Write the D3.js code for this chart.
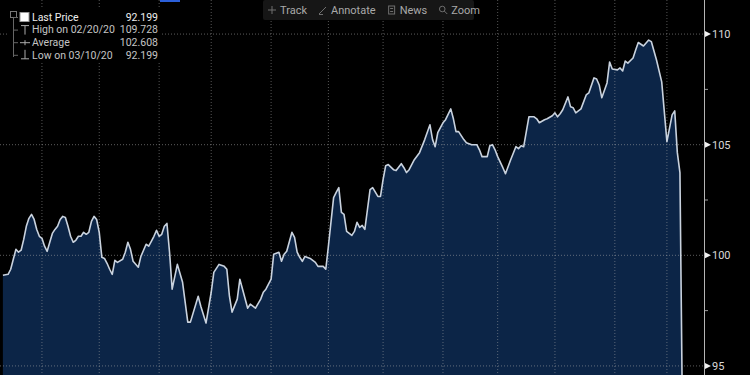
<!DOCTYPE html>
<html>
<head>
<meta charset="utf-8">
<script src="https://cdn.jsdelivr.net/npm/d3@7"></script>
<style>
  html, body { margin: 0; background: #000; overflow: hidden; }
  svg { display: block; font-family: Roboto, 'Open Sans', sans-serif; }
</style>
</head>
<body>
<svg id="chart" width="750" height="375"></svg>
<script>
// trading session index (0 = 2019-03-11) and closing level
var sessions = [0,2,3,4,5,6,7,8,9,10,11,12,13,14,15,16,17,18,19,20,21,22,23,24,25,26,27,28,29,30,
  31,32,33,34,35,36,37,38,39,40,41,42,43,44,46,47,48,49,50,52,53,55,56,57,58,59,60,61,62,63,
  64,65,67,69,71,72,75,76,78,80,81,83,85,86,87,88,90,91,94,95,97,99,100,101,103,104,106,107,108,109,
  111,112,113,114,115,116,118,120,121,123,124,125,127,128,129,130,131,132,134,135,136,137,138,139,
  140,141,142,144,145,146,147,148,150,151,153,154,155,156,158,160,162,164,165,166,167,169,170,172,
  173,174,175,177,178,180,182,183,184,186,187,188,189,190,192,193,195,197,198,199,200,202,204,205,
  206,208,209,211,212,213,214,215,217,218,219,220,222,224,225,227,228,229,230,232,233,234,236,237,
  238,239,240,242,243,244,246,248,249,251,253,255,257,258,259,260,261];
var prices = [99.10,99.14,99.37,99.82,100.27,100.14,100.23,100.72,101.31,101.67,101.85,101.62,101.17,100.86,100.77,
  100.41,100.18,100.59,100.99,101.17,101.31,101.62,101.76,101.71,101.31,100.86,100.59,100.68,100.86,100.86,
  101.04,100.95,101.04,101.53,101.76,101.62,101.04,99.91,99.86,99.64,99.37,99.14,99.77,99.68,99.82,
  100.14,100.59,100.27,99.73,99.46,99.95,100.50,100.41,100.63,100.86,101.13,100.86,100.95,101.31,101.44,
  100.14,98.47,99.59,98.78,96.98,96.98,98.15,97.70,96.94,98.33,99.23,99.59,99.50,99.37,98.15,
  97.43,98.02,98.92,97.61,97.79,97.61,98.02,98.33,98.47,98.92,100.05,100.14,99.73,100.05,100.18,
  101.04,100.81,100.14,99.91,99.73,99.95,99.86,99.68,99.50,99.50,99.37,100.41,102.61,102.84,103.06,
  101.94,101.85,101.08,100.90,101.08,101.49,101.26,101.35,101.17,102.07,102.97,103.06,102.66,102.66,103.42,
  104.05,104.10,103.87,103.83,104.14,103.96,103.74,103.87,104.32,104.64,105.23,105.90,105.23,104.91,105.54,
  105.99,106.13,106.62,106.17,105.59,105.59,105.23,105.09,105.00,105.00,104.77,104.46,104.46,104.95,105.00,
  104.77,104.46,103.96,103.69,104.32,104.91,104.82,104.95,104.91,106.26,106.26,106.17,105.99,106.13,106.17,
  106.31,106.44,106.26,106.40,106.58,107.16,106.71,106.67,106.44,106.62,107.25,107.34,108.02,107.97,107.70,
  107.12,107.79,108.74,108.42,108.38,108.47,108.33,108.78,108.69,108.92,109.28,109.62,109.46,109.728,109.66,
  108.83,107.84,105.14,106.35,106.53,104.64,103.74,92.199];
var firstSession = '2019-03-11';

var yTicks = [95, 100, 105, 110];
var yMinorTicks = [97.5, 102.5, 107.5];
var legendLabels = ['Last Price', 'High on 02/20/20', 'Average', 'Low on 03/10/20'];
var legendValues = ['92.199', '109.728', '102.608', '92.199'];
var toolbarItems = ['Track', 'Annotate', 'News', 'Zoom'];

//sizes
var w = 750;
var h = 375;
var plotW = 704;

var svg = d3.select('#chart');
svg.append('rect').attr('width', w).attr('height', h).attr('fill', '#000');

var x = d3.scaleLinear().domain([-1.11, 269.24]).range([0, plotW]);
var y = d3.scaleLinear().domain([94.59, 111.54]).range([h, 0]);

//weekday calendar -> first session of each month for the grid
var start = d3.utcParse('%Y-%m-%d')(firstSession);
var weekdays = d3.utcDay.range(start, d3.utcDay.offset(start, 400))
  .filter(function (d) { return d.getUTCDay() > 0 && d.getUTCDay() < 6; });
var monthStarts = [];
weekdays.forEach(function (d, i) {
  if (i > 0 && d.getUTCMonth() !== weekdays[i - 1].getUTCMonth() && x(i) < plotW) monthStarts.push(i);
});

var data = sessions.map(function (s, i) { return { s: s, v: prices[i] }; });

svg.append('clipPath').attr('id', 'plotClip')
  .append('rect').attr('x', 0).attr('y', 0).attr('width', plotW).attr('height', h);

var plot = svg.append('g').attr('clip-path', 'url(#plotClip)');

//filled area under the price
var area = d3.area()
  .x(function (d) { return x(d.s); })
  .y0(h)
  .y1(function (d) { return y(d.v); });

plot.append('path').datum(data)
  .attr('d', area)
  .attr('fill', '#0c2547');

//dotted grid
plot.selectAll('line.hgrid').data(yTicks).enter().append('line')
  .attr('class', 'hgrid')
  .attr('x1', 0).attr('x2', plotW)
  .attr('y1', function (d) { return y(d); })
  .attr('y2', function (d) { return y(d); })
  .attr('stroke', 'rgba(170,170,170,0.55)')
  .attr('stroke-dasharray', '1,2');

plot.selectAll('line.vgrid').data(monthStarts).enter().append('line')
  .attr('class', 'vgrid')
  .attr('x1', function (d) { return x(d); })
  .attr('x2', function (d) { return x(d); })
  .attr('y1', 0).attr('y2', h)
  .attr('stroke', 'rgba(170,170,170,0.5)')
  .attr('stroke-dasharray', '1,2');

//price line
var line = d3.line()
  .x(function (d) { return x(d.s); })
  .y(function (d) { return y(d.v); });

plot.append('path').datum(data)
  .attr('d', line)
  .attr('fill', 'none')
  .attr('stroke', '#c9d2de')
  .attr('stroke-width', 1.6)
  .attr('stroke-linejoin', 'round');

//right axis
svg.append('line')
  .attr('x1', plotW + 0.5).attr('x2', plotW + 0.5)
  .attr('y1', 0).attr('y2', h)
  .attr('stroke', '#b5b5b5');

svg.selectAll('path.ytick').data(yTicks).enter().append('path')
  .attr('class', 'ytick')
  .attr('d', function (d) {
    var ty = y(d);
    return 'M' + (plotW + 1) + ',' + (ty - 3) + 'L' + (plotW + 7) + ',' + ty + 'L' + (plotW + 1) + ',' + (ty + 3) + 'Z';
  })
  .attr('fill', '#f0f0f0');

svg.selectAll('line.yminor').data(yMinorTicks).enter().append('line')
  .attr('class', 'yminor')
  .attr('x1', plotW + 1).attr('x2', plotW + 4)
  .attr('y1', function (d) { return y(d); })
  .attr('y2', function (d) { return y(d); })
  .attr('stroke', '#9a9a9a');

svg.selectAll('text.ylabel').data(yTicks).enter().append('text')
  .attr('class', 'ylabel')
  .attr('x', plotW + 8)
  .attr('y', function (d) { return y(d); })
  .attr('dy', '0.36em')
  .attr('font-size', 11)
  .attr('fill', '#d8d8d8')
  .text(function (d) { return d; });

//legend box
var legend = svg.append('g');
legend.append('rect')
  .attr('x', 8).attr('y', 8).attr('width', 154).attr('height', 54)
  .attr('fill', '#000');

legend.append('rect').attr('x', 10.5).attr('y', 11.5).attr('width', 6).attr('height', 6)
  .attr('fill', 'none').attr('stroke', '#777');
legend.append('line').attr('x1', 13.5).attr('x2', 13.5).attr('y1', 18).attr('y2', 57)
  .attr('stroke', '#666');

var rowY = function (i) { return 17 + i * 12.6; };

legend.selectAll('line.stub').data(legendLabels).enter().append('line')
  .attr('class', 'stub')
  .attr('x1', 13.5).attr('x2', 18)
  .attr('y1', function (d, i) { return rowY(i) + 0.5; })
  .attr('y2', function (d, i) { return rowY(i) + 0.5; })
  .attr('stroke', '#666');

//legend icons
legend.append('rect').attr('x', 20).attr('y', rowY(0) - 4.5).attr('width', 9).attr('height', 9)
  .attr('fill', '#fff').attr('stroke', '#999');
legend.append('path')
  .attr('d', 'M21,' + (rowY(1) - 4) + 'H29M25,' + (rowY(1) - 4) + 'V' + (rowY(1) + 5))
  .attr('stroke', '#aaa').attr('fill', 'none');
legend.append('path')
  .attr('d', 'M20,' + (rowY(2) + 0.5) + 'H30M25,' + (rowY(2) - 2) + 'V' + (rowY(2) + 3))
  .attr('stroke', '#aaa').attr('fill', 'none');
legend.append('path')
  .attr('d', 'M25,' + (rowY(3) - 5) + 'V' + (rowY(3) + 4) + 'M21,' + (rowY(3) + 4) + 'H29')
  .attr('stroke', '#aaa').attr('fill', 'none');

legend.selectAll('text.lname').data(legendLabels).enter().append('text')
  .attr('class', 'lname')
  .attr('x', 32)
  .attr('y', function (d, i) { return rowY(i); })
  .attr('dy', '0.36em')
  .attr('font-size', 10.5)
  .attr('fill', function (d, i) { return i === 0 ? '#eeeeee' : '#c4c4c4'; })
  .text(function (d) { return d; });

legend.selectAll('text.lval').data(legendValues).enter().append('text')
  .attr('class', 'lval')
  .attr('x', 158)
  .attr('y', function (d, i) { return rowY(i); })
  .attr('dy', '0.36em')
  .attr('text-anchor', 'end')
  .attr('font-size', 10.5)
  .attr('fill', function (d, i) { return i === 0 ? '#eeeeee' : '#c4c4c4'; })
  .text(function (d) { return d; });

//top toolbar
svg.append('rect').attr('x', 160).attr('y', 0).attr('width', 20).attr('height', 2).attr('fill', '#2b5fd9');
svg.append('rect').attr('x', 293).attr('y', 0).attr('width', 27).attr('height', 2).attr('fill', '#2b5fd9');

var bar = svg.append('g');
bar.append('rect')
  .attr('x', 263).attr('y', 0).attr('width', 211).attr('height', 20).attr('rx', 2)
  .attr('fill', '#161616');

var cursor = 268;
toolbarItems.forEach(function (name, i) {
  var ix = cursor, cy = 10;
  var icon = bar.append('g').attr('stroke', '#6e6e6e').attr('fill', 'none');
  if (i === 0) {
    icon.append('path').attr('d', 'M' + (ix + 4) + ',' + (cy - 4) + 'V' + (cy + 4) + 'M' + ix + ',' + cy + 'H' + (ix + 8));
  } else if (i === 1) {
    icon.append('path').attr('d', 'M' + ix + ',' + (cy + 4) + 'L' + (ix + 7) + ',' + (cy - 3) + 'M' + ix + ',' + (cy + 4.5) + 'H' + (ix + 4));
  } else if (i === 2) {
    icon.append('rect').attr('x', ix + 1).attr('y', cy - 4).attr('width', 6).attr('height', 8);
    icon.append('path').attr('d', 'M' + (ix + 2.5) + ',' + (cy - 1.5) + 'H' + (ix + 5.5) + 'M' + (ix + 2.5) + ',' + (cy + 1.5) + 'H' + (ix + 5.5));
  } else {
    icon.append('circle').attr('cx', ix + 3).attr('cy', cy - 1).attr('r', 2.8);
    icon.append('path').attr('d', 'M' + (ix + 5) + ',' + (cy + 1) + 'L' + (ix + 8) + ',' + (cy + 4));
  }
  var t = bar.append('text')
    .attr('x', ix + 12)
    .attr('y', cy)
    .attr('dy', '0.36em')
    .attr('font-size', 11)
    .attr('fill', '#a9a9a9')
    .text(name);
  cursor = ix + 12 + t.node().getComputedTextLength() + 12;
});
</script>
</body>
</html>
